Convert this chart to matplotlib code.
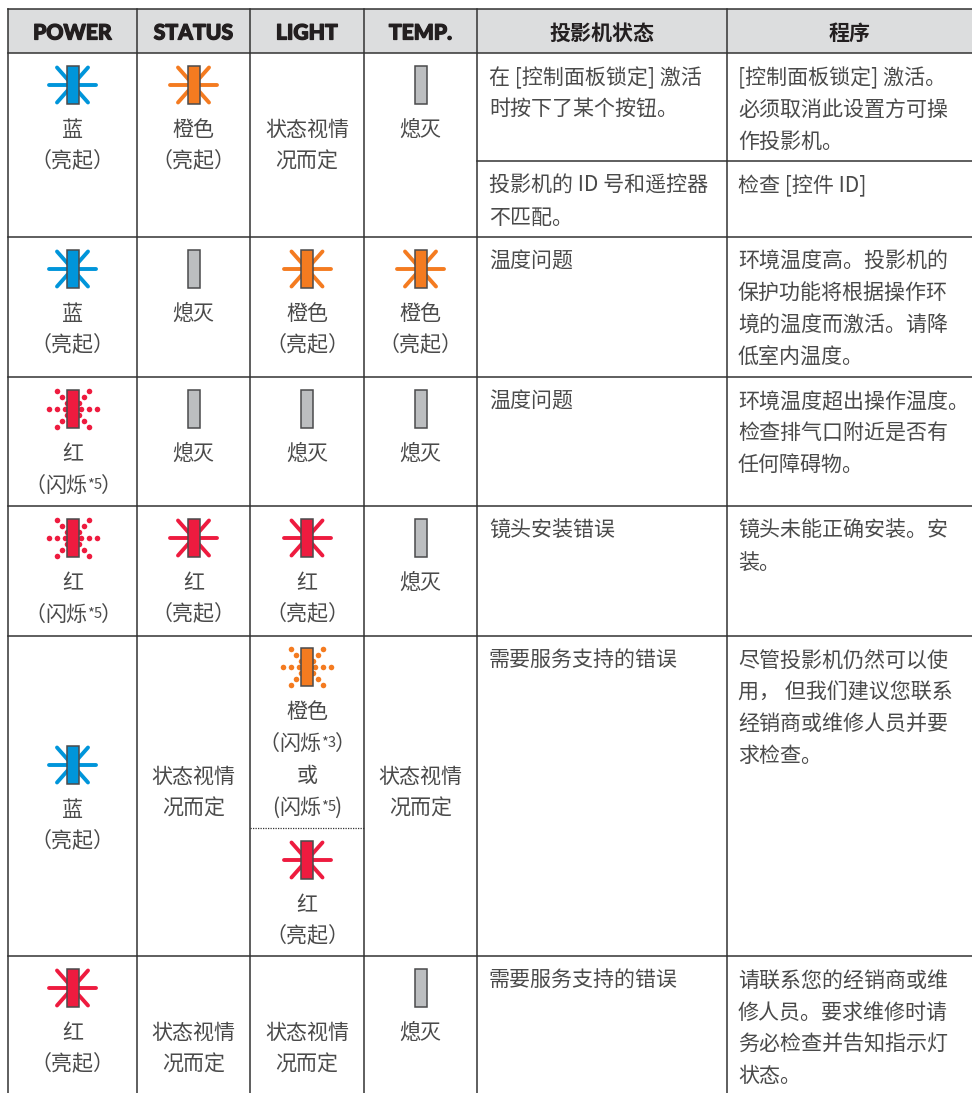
import matplotlib
matplotlib.use('Agg')
import matplotlib.pyplot as plt
import matplotlib.patheffects as pe
from matplotlib.patches import Rectangle

plt.rcParams['font.family'] = ['Noto Sans CJK SC', 'DejaVu Sans']

# ---- table content ----
headers_latin = ['POWER', 'STATUS', 'LIGHT', 'TEMP.']
headers_cjk = ['投影机状态', '程序']

# one state per row, for the four indicator columns
power_states = ['blue_on', 'blue_on', 'red_blink', 'red_blink', 'blue_on', 'red_on']
status_states = ['orange_on', 'off', 'off', 'red_on', 'depends', 'depends']
light_states = ['depends', 'orange_on', 'off', 'red_on', 'split', 'depends']
temp_states = ['off', 'orange_on', 'off', 'off', 'depends', 'off']

projector_text = [
    ['在 [控制面板锁定] 激活', '时按下了某个按钮。'],
    ['投影机的 ID 号和遥控器', '不匹配。'],
    ['温度问题'],
    ['温度问题'],
    ['镜头安装错误'],
    ['需要服务支持的错误'],
    ['需要服务支持的错误'],
]
procedure_text = [
    ['[控制面板锁定] 激活。', '必须取消此设置方可操', '作投影机。'],
    ['检查 [控件 ID]'],
    ['环境温度高。投影机的', '保护功能将根据操作环', '境的温度而激活。请降', '低室内温度。'],
    ['环境温度超出操作温度。', '检查排气口附近是否有', '任何障碍物。'],
    ['镜头未能正确安装。安', '装。'],
    ['尽管投影机仍然可以使', '用， 但我们建议您联系', '经销商或维修人员并要', '求检查。'],
    ['请联系您的经销商或维', '修人员。要求维修时请', '务必检查并告知指示灯', '状态。'],
]

colors = {'blue': '#0095da', 'orange': '#f47b20', 'red': '#ee1b3f', 'grey': '#bcbec0'}

# ---- layout, in pixels of the page ----
W, H = 972, 1093
col_x = [8, 137, 250, 364, 477, 727]
row_y = [53, 237, 377, 506, 636, 956]
sub_row_y = 161
dotted_y = 828
state_top = [53, 237, 377, 506, 733, 956]
depends_top = [53, 237, 377, 506, 700, 956]
text_top = [53, 161, 237, 377, 506, 636, 956]
LINE = 31.7
EM = 21
FS = EM * 72 / 100
TEXT = '#4a4a4a'
RULE = '#333333'

fig = plt.figure(figsize=(W / 100, H / 100), dpi=100)
ax = fig.add_axes([0, 0, 1, 1])
ax.set_xlim(0, W)
ax.set_ylim(H, 0)
ax.axis('off')


def put(x, yc, s, ha='center', size=FS, **kw):
    # yc is the middle of the CJK glyph box
    ax.text(x, yc + 0.38 * EM, s, ha=ha, va='baseline', fontsize=size,
            color=kw.pop('color', TEXT), **kw)


def paren_note(cx, yc, opening, closing, note, left_w, right_w):
    # label with a small raised footnote mark, placed piece by piece
    total = left_w + 2 * EM + 13 + right_w
    x = cx - total / 2
    put(x, yc, opening, ha='left')
    put(x + left_w, yc, '闪烁', ha='left')
    put(x + left_w + 2 * EM, yc - 3, note, ha='left', size=FS * 0.7)
    put(x + left_w + 2 * EM + 13, yc, closing, ha='left')


def lamp(cx, cy, color):
    ax.add_patch(Rectangle((cx - 6, cy - 19), 12, 38, facecolor=colors[color],
                           edgecolor='#4a4a4c', linewidth=1.1, zorder=4))


def lamp_on(cx, cy, color):
    for dx, dy in [(-23.5, 0), (-15.5, -17.5), (-15.5, 17.5)]:
        ax.plot([cx + dx, cx - dx], [cy + dy, cy - dy], color=colors[color], lw=2.8,
                solid_capstyle='round', zorder=3)
    lamp(cx, cy, color)


def lamp_blink(cx, cy, color):
    xs, ys = [], []
    for dx in (8, 16, 24):
        xs += [cx - dx, cx + dx]
        ys += [cy, cy]
    for dx, dy in [(6, 6), (11, 12), (16, 18)]:
        xs += [cx - dx, cx + dx, cx - dx, cx + dx]
        ys += [cy - dy, cy - dy, cy + dy, cy + dy]
    ax.plot(xs, ys, 'o', color=colors[color], ms=4.0, mew=0, zorder=3)
    lamp(cx, cy, color)


def draw_state(state, cx, top, dep_top):
    if state == 'depends':
        put(cx, dep_top + 75, '状态视情')
        put(cx, dep_top + 75 + LINE, '况而定')
    elif state == 'off':
        lamp(cx, top + 32, 'grey')
        put(cx, top + 75, '熄灭')
    elif state == 'blue_on':
        lamp_on(cx, top + 32, 'blue')
        put(cx, top + 75, '蓝')
        put(cx, top + 75 + LINE, '（亮起）')
    elif state == 'orange_on':
        lamp_on(cx, top + 32, 'orange')
        put(cx, top + 75, '橙色')
        put(cx, top + 75 + LINE, '（亮起）')
    elif state == 'red_on':
        lamp_on(cx, top + 32, 'red')
        put(cx, top + 75, '红')
        put(cx, top + 75 + LINE, '（亮起）')
    elif state == 'red_blink':
        lamp_blink(cx, top + 32, 'red')
        put(cx, top + 75, '红')
        paren_note(cx, top + 75 + LINE, '（', '）', '*5', EM, EM)
    elif state == 'split':
        lamp_blink(cx, 667, 'orange')
        put(cx, 710, '橙色')
        paren_note(cx, 742, '（', '）', '*3', EM, EM)
        put(cx, 774, '或')
        paren_note(cx, 806, '(', ')', '*5', 7, 7)
        lamp_on(cx, 860, 'red')
        put(cx, 903, '红')
        put(cx, 934, '（亮起）')


# header band
ax.add_patch(Rectangle((col_x[0], 9), W - col_x[0], row_y[0] - 9, facecolor='#dcddde',
                       edgecolor='none', zorder=0))

# rules
for y in [9] + row_y:
    ax.plot([col_x[0], W], [y, y], color=RULE, lw=1.1, zorder=1)
ax.plot([col_x[4], W], [sub_row_y, sub_row_y], color=RULE, lw=1.1, zorder=1)
for x in col_x:
    ax.plot([x, x], [9, H], color=RULE, lw=1.1, zorder=1)
ax.plot([col_x[2], col_x[3]], [dotted_y, dotted_y], color=RULE, lw=0.9, ls=(0, (1, 1)), zorder=1)

# headers, Lato's bold is thickened a little to get the black weight
heavy = [pe.withStroke(linewidth=0.9, foreground='#231f20')]
centers = [(a + b) / 2 for a, b in zip(col_x[:4], col_x[1:5])]
for cx, name in zip(centers, headers_latin):
    ax.text(cx, 39.5, name, ha='center', va='baseline', fontsize=15.2, family='Lato',
            weight='black', color='#231f20', path_effects=heavy)
for cx, name in zip([(col_x[4] + col_x[5]) / 2, (col_x[5] + W) / 2], headers_cjk):
    put(cx, 32, name, weight='bold', color='#231f20')

# indicator columns
for cx, states in zip(centers, [power_states, status_states, light_states, temp_states]):
    for state, top, dep_top in zip(states, state_top, depends_top):
        draw_state(state, cx, top, dep_top)

# description columns
for top, lines, proc in zip(text_top, projector_text, procedure_text):
    for i, s in enumerate(lines):
        put(col_x[4] + 12, top + 23 + i * LINE, s, ha='left')
    for i, s in enumerate(proc):
        put(col_x[5] + 11, top + 23 + i * LINE, s, ha='left')

fig.savefig('out.png', dpi=100)
